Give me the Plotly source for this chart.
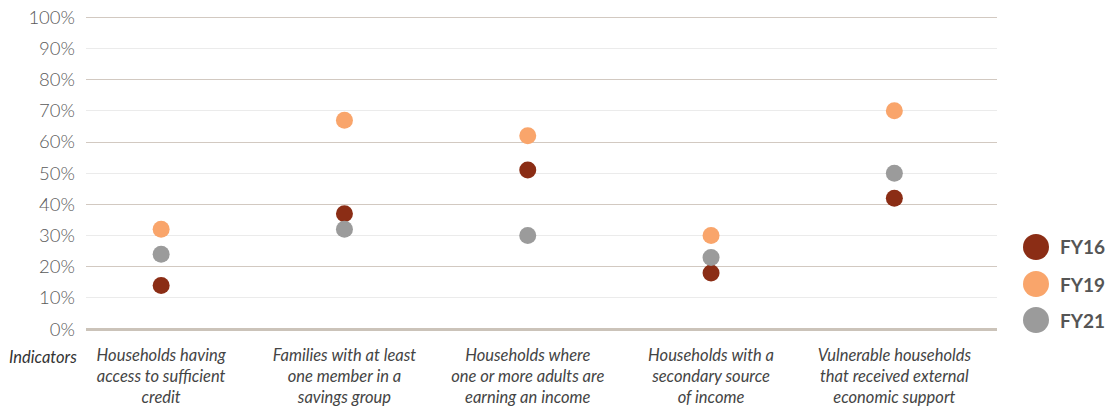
import plotly.graph_objects as go

categories = [
    "Households having<br>access to sufficient<br>credit",
    "Families with at least<br>one member in a<br>savings group",
    "Households where<br>one or more adults are<br>earning an income",
    "Households with a<br>secondary source<br>of income",
    "Vulnerable households<br>that received external<br>economic support",
]
series_names = ["FY16", "FY19", "FY21"]
fy16 = [14, 37, 51, 18, 42]
fy19 = [32, 67, 62, 30, 70]
fy21 = [24, 32, 30, 23, 50]
colors = ["#8B2D15", "#F9A56B", "#9B9B9B"]
y_ticks = list(range(0, 101, 10))
y_labels = [f"{v}%" for v in y_ticks]

FONT = "Lato, 'Open Sans', sans-serif"
YR = [-0.6, 100.4]

fig = go.Figure()
# invisible trace to anchor the base y axis
fig.add_trace(go.Scatter(x=categories, y=fy16, mode="markers",
                         marker=dict(opacity=0), hoverinfo="skip",
                         showlegend=False, yaxis="y"))
for name, vals, col in zip(series_names, [fy16, fy19, fy21], colors):
    fig.add_trace(go.Scatter(
        x=categories, y=vals, name=name, mode="markers",
        marker=dict(size=17, color=col), yaxis="y2", showlegend=False,
    ))

fig.update_layout(
    width=1109, height=406,
    margin=dict(l=86, r=112, t=16, b=75, autoexpand=False),
    paper_bgcolor="white", plot_bgcolor="white",
    font=dict(family=FONT),
    xaxis=dict(
        type="category", range=[-0.41, 4.56], showgrid=False, zeroline=False,
        tickfont=dict(family=FONT, size=16.5, color="#444", style="italic"),
        ticks="", showline=False, ticklabelstandoff=12, automargin=False,
    ),
    yaxis=dict(
        range=YR, tickvals=y_ticks, ticktext=y_labels,
        showgrid=True, gridcolor="#ebebeb", gridwidth=1,
        zeroline=False, ticks="", ticklabelstandoff=10, automargin=False,
        tickfont=dict(family=FONT, size=18.5, color="#5a5a5a", weight=300),
    ),
    yaxis2=dict(
        range=YR, overlaying="y", tickvals=[20, 40, 60, 80, 100],
        showticklabels=False, automargin=False,
        showgrid=True, gridcolor="#d2c9c1", gridwidth=1,
        zeroline=True, zerolinecolor="#cbc3b9", zerolinewidth=3,
    ),
)

fig.add_annotation(
    text="<i>Indicators</i>", xref="paper", yref="paper", x=-0.047, y=-0.083,
    xanchor="center", yanchor="middle", showarrow=False,
    font=dict(family=FONT, size=16.5, color="#333"),
)

# custom legend
legend_y = [247, 284, 320]
for name, col, py in zip(series_names, colors, legend_y):
    yp = 1 - (py - 16) / (406 - 16 - 75)
    fig.add_shape(
        type="circle", xref="paper", yref="paper",
        xsizemode="pixel", ysizemode="pixel",
        xanchor=1.0428, yanchor=yp,
        x0=-13, x1=13, y0=-13, y1=13,
        fillcolor=col, line=dict(width=0),
    )
    fig.add_annotation(
        text=f"<b>{name}</b>", xref="paper", yref="paper",
        x=1.0675, y=yp, xanchor="left", yanchor="middle", showarrow=False,
        font=dict(family=FONT, size=19, color="#555"),
    )

fig.write_html("out.html")
